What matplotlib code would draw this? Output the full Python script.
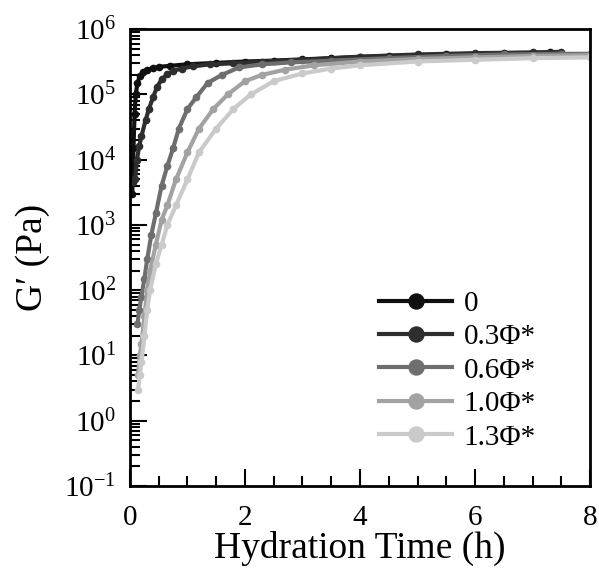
import numpy as np
import matplotlib
matplotlib.use("Agg")
import matplotlib.pyplot as plt

plt.rcParams['font.family'] = ['Liberation Serif', 'DejaVu Serif']
plt.rcParams['mathtext.fontset'] = 'custom'
plt.rcParams['mathtext.rm'] = 'Liberation Serif'
plt.rcParams['axes.unicode_minus'] = False

# hydration time (h) and storage modulus G' (Pa)
t_0 = [0.04, 0.06, 0.08, 0.10, 0.13, 0.17, 0.22, 0.30, 0.40, 0.50, 0.70,
       1.0, 1.5, 2.0, 2.5, 3.0, 3.5, 4.0, 4.5, 5.0, 5.5, 6.0, 6.5, 7.0, 7.3]
g_0 = [3e3, 1.5e4, 5e4, 1.0e5, 1.5e5, 1.9e5, 2.2e5, 2.4e5, 2.55e5, 2.65e5,
       2.75e5, 2.9e5, 3.05e5, 3.2e5, 3.3e5, 3.45e5, 3.6e5, 3.75e5, 3.9e5,
       4.0e5, 4.1e5, 4.2e5, 4.3e5, 4.35e5, 4.4e5]

t_03 = [0.06, 0.09, 0.12, 0.16, 0.20, 0.27, 0.33, 0.40, 0.47, 0.55, 0.65,
        0.75, 0.90, 1.1, 1.4, 1.8, 2.3, 3.0, 4.0, 5.0, 6.0, 7.0, 7.5]
g_03 = [4.5e3, 5e3, 1e4, 1.6e4, 2.3e4, 4e4, 6e4, 9e4, 1.3e5, 1.7e5, 2.05e5,
        2.3e5, 2.5e5, 2.7e5, 2.9e5, 3.0e5, 3.2e5, 3.4e5, 3.8e5, 4.1e5,
        4.3e5, 4.4e5, 4.5e5]

t_06 = [0.13, 0.16, 0.20, 0.25, 0.30, 0.37, 0.45, 0.55, 0.65, 0.75, 0.85,
        1.0, 1.15, 1.35, 1.6, 1.9, 2.3, 2.8, 3.5, 4.5, 5.5, 6.5, 7.5, 8.0]
g_06 = [3e1, 5e1, 8e1, 1.5e2, 3e2, 7e2, 1.5e3, 4e3, 8e3, 1.5e4, 3e4, 6e4,
        9e4, 1.5e5, 2.0e5, 2.6e5, 2.9e5, 3.1e5, 3.3e5, 3.6e5, 3.9e5, 4.1e5,
        4.2e5, 4.2e5]

t_10 = [0.14, 0.17, 0.20, 0.25, 0.30, 0.35, 0.45, 0.55, 0.65, 0.80, 1.0,
        1.2, 1.45, 1.7, 2.0, 2.3, 2.7, 3.2, 4.0, 5.0, 6.0, 7.0, 8.0]
g_10 = [5, 1e1, 1.5e1, 4e1, 1e2, 2e2, 5e2, 1.2e3, 2e3, 5e3, 1.3e4, 3e4,
        6e4, 1.0e5, 1.6e5, 2.0e5, 2.4e5, 2.8e5, 3.2e5, 3.5e5, 3.7e5, 3.9e5,
        4.0e5]

t_13 = [0.14, 0.17, 0.20, 0.25, 0.30, 0.35, 0.45, 0.55, 0.65, 0.80, 1.0,
        1.2, 1.5, 1.8, 2.1, 2.5, 3.0, 3.5, 4.0, 5.0, 6.0, 7.0, 8.0]
g_13 = [3, 5, 8, 2e1, 5e1, 1e2, 2.5e2, 5e2, 1e3, 2e3, 5e3, 1.3e4, 3e4,
        6e4, 1e5, 1.6e5, 2.1e5, 2.5e5, 2.8e5, 3.2e5, 3.4e5, 3.6e5, 3.7e5]

labels = ['0', '0.3Φ*', '0.6Φ*', '1.0Φ*', '1.3Φ*']
colors = ['#101010', '#2e2e2e', '#6e6e6e', '#a2a2a2', '#cacaca']
series = [(t_0, g_0), (t_03, g_03), (t_06, g_06), (t_10, g_10), (t_13, g_13)]

fig = plt.figure(figsize=(5.99, 5.73), dpi=100)
ax = fig.add_axes([0.217, 0.152, 0.768, 0.797])

for (t, g), lab, c in zip(series, labels, colors):
    ax.plot(t, g, '-o', color=c, lw=3, ms=4.5, mec=c, label=lab)

ax.set_yscale('log')
ax.set_xlim(0, 8)
ax.set_ylim(1e-1, 1e6)
ax.set_xticks([0, 2, 4, 6, 8])
ax.set_xticks(np.arange(0, 8.01, 0.5), minor=True)
ax.tick_params(which='both', direction='in', top=False, right=False,
               labelsize=21, width=1.5)
ax.tick_params(which='major', length=12)
ax.tick_params(which='minor', length=7)
ax.tick_params(axis='x', pad=14)
ax.tick_params(axis='y', pad=10)
for s in ax.spines.values():
    s.set_linewidth(2)

ax.set_xlabel('Hydration Time (h)', fontsize=27, labelpad=0)
ax.set_ylabel('G′ (Pa)', fontsize=27, labelpad=10)

leg = ax.legend(loc='lower left', bbox_to_anchor=(0.485, 0.02), frameon=False,
                fontsize=21, handlelength=2.5, markerscale=2.4,
                labelspacing=0.24, handletextpad=0.4)

fig.savefig('out.png', dpi=100)
